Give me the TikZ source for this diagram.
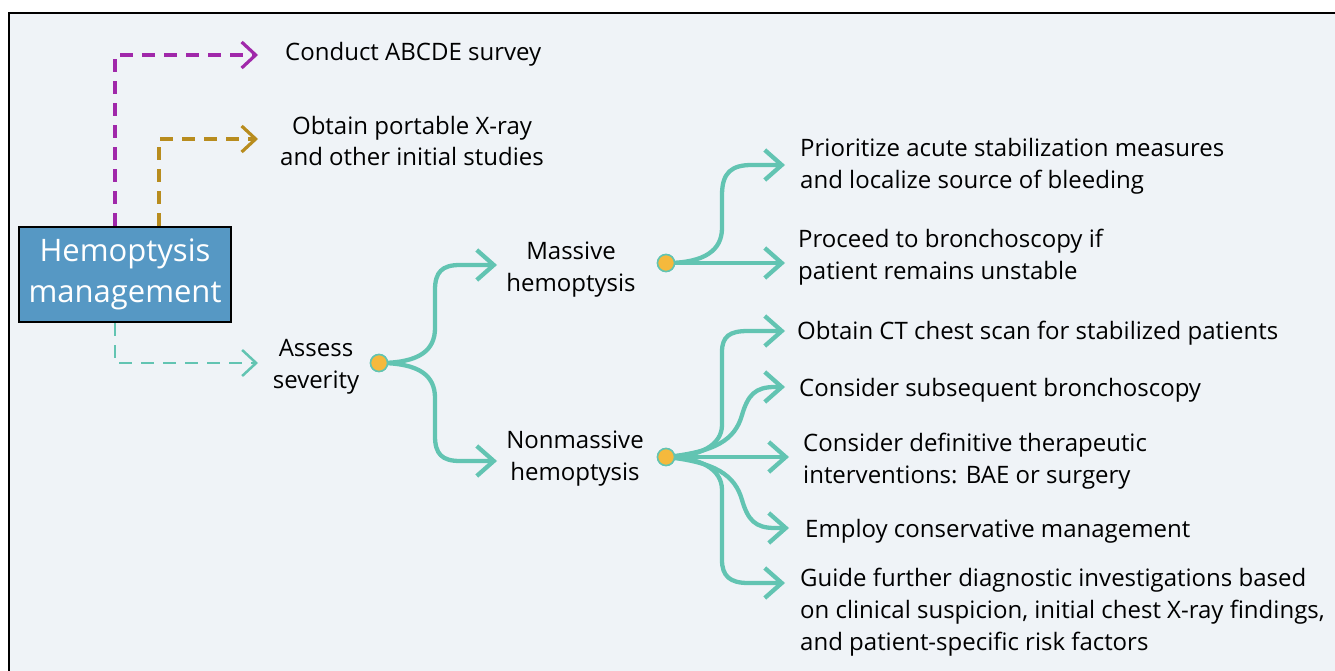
\documentclass[tikz,border=0pt]{standalone}
\usepackage{fontspec}
\setmainfont{Open Sans}
\usetikzlibrary{arrows.meta}
\definecolor{tealc}{RGB}{98,196,178}
\definecolor{purplec}{RGB}{160,40,170}
\definecolor{goldc}{RGB}{184,140,30}
\definecolor{dotc}{RGB}{245,185,60}
\definecolor{boxc}{RGB}{86,152,196}
\definecolor{bgc}{RGB}{239,243,247}
\tikzset{
  lbl/.style={inner sep=0pt, align=left, font=\fontsize{24}{32}\selectfont, anchor=base west},
  clbl/.style={inner sep=0pt, align=center, font=\fontsize{24}{31.5}\selectfont, anchor=base},
  hbox/.style={draw=black, line width=2pt, fill=boxc, text=white, minimum width=212pt, minimum height=95pt, align=center, inner sep=0pt, font=\fontsize{31}{41}\selectfont},
  dotn/.style={circle, fill=dotc, draw=tealc, line width=1.5pt, minimum size=17pt, inner sep=0pt},
  tarrow/.style={draw=tealc, line width=4.3pt, line cap=round, -{Straight Barb[length=17pt,width=30pt]}},
  dashar/.style={line width=3.2pt, dash pattern=on 13pt off 9pt, -{Straight Barb[length=14pt,width=26pt]}}
}
\begin{document}
\begin{tikzpicture}[x=1pt,y=-1pt]
\clip (0,0) rectangle (1335,671);
\fill[white] (0,0) rectangle (1335,671);
\draw[line width=2pt, fill=bgc] (9,13) rectangle (1350,690);

\node[hbox] (hm) at (125,274.5) {Hemoptysis\\management};

\node[lbl] (conduct) at (285,61) {Conduct ABCDE survey};
\node[clbl] (xray) at (412,166) {Obtain portable X-ray\\and other initial studies};
\node[clbl] (assess) at (316,388) {Assess\\severity};
\node[clbl] (massive) at (571,291) {Massive\\hemoptysis};
\node[clbl] (nonmassive) at (575,480) {Nonmassive\\hemoptysis};
\node[lbl] (prior) at (800,189) {Prioritize acute stabilization measures\\and localize source of bleeding};
\node[lbl] (proceed) at (798,279) {Proceed to bronchoscopy if\\patient remains unstable};
\node[lbl] (ct) at (797,339) {Obtain CT chest scan for stabilized patients};
\node[lbl] (subseq) at (799,396) {Consider subsequent bronchoscopy};
\node[lbl] (defin) at (803,483) {Consider definitive therapeutic\\interventions: BAE or surgery};
\node[lbl] (employ) at (805,537) {Employ conservative management};
\node[lbl] (guide) at (800,650) {Guide further diagnostic investigations based\\on clinical suspicion, initial chest X-ray findings,\\and patient-specific risk factors};

\coordinate (a1) at (258,55);
\coordinate (a2) at (258,139);
\coordinate (a3) at (258,363);
\draw[dashar, draw=purplec] ([xshift=97pt]hm.north west) |- (a1);
\draw[dashar, draw=goldc] ([xshift=141pt]hm.north west) |- (a2);
\draw[dashar, draw=tealc, line width=2.5pt] ([xshift=97pt]hm.south west) |- (a3);

\node[dotn] (d1) at (379,363) {};
\node[dotn] (d2) at (666,263) {};
\node[dotn] (d3) at (666,457) {};

\coordinate (m1) at (497,265);
\coordinate (m2) at (497,461);
\draw[tarrow] (d1.center) .. controls (420,363) and (435,350) .. (435,328) -- (435,290) .. controls (435,272) and (442,265) .. (460,265) -- (m1);
\draw[tarrow] (d1.center) .. controls (420,363) and (435,376) .. (435,398) -- (435,436) .. controls (435,454) and (442,461) .. (460,461) -- (m2);

\coordinate (p1) at (785,165);
\coordinate (p2) at (785,263);
\draw[tarrow] (d2.center) .. controls (705,263) and (722,250) .. (722,228) -- (722,195) .. controls (722,172) and (732,165) .. (752,165) -- (p1);
\draw[tarrow] (d2.center) -- (p2);

\coordinate (q1) at (785,331);
\coordinate (q2) at (785,387);
\coordinate (q3) at (789,457);
\coordinate (q4) at (789,528);
\coordinate (q5) at (785,583);
\draw[tarrow] (d3.center) .. controls (700,457) and (722,445) .. (722,425) -- (722,352) .. controls (722,336) and (730,331) .. (748,331) -- (q1);
\draw[tarrow] (d3.center) .. controls (715,452) and (735,440) .. (742,415) .. controls (748,395) and (755,387) .. (775,387) -- (q2);
\draw[tarrow] (d3.center) -- (q3);
\draw[tarrow] (d3.center) .. controls (715,462) and (735,475) .. (742,500) .. controls (748,520) and (755,528) .. (775,528) -- (q4);
\draw[tarrow] (d3.center) .. controls (700,457) and (722,469) .. (722,490) -- (722,560) .. controls (722,576) and (730,583) .. (748,583) -- (q5);

\node[dotn] at (d1) {};
\node[dotn] at (d2) {};
\node[dotn] at (d3) {};
\end{tikzpicture}
\end{document}
